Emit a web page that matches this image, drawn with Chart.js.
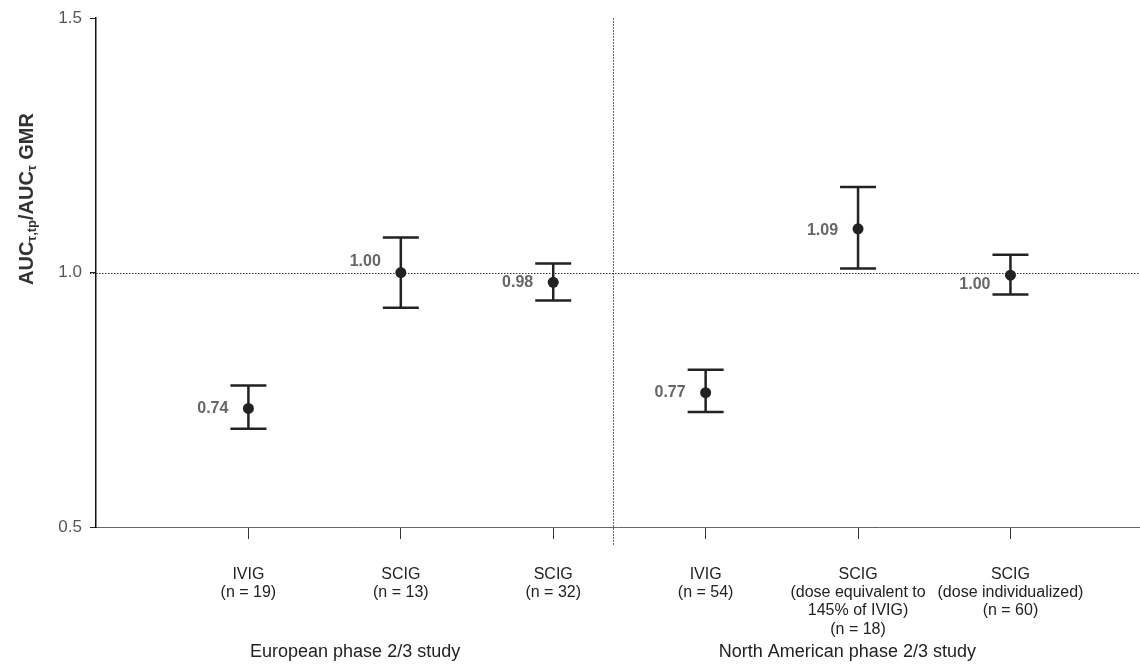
<!DOCTYPE html>
<html>
<head>
<meta charset="utf-8">
<script src="https://cdn.jsdelivr.net/npm/chart.js@4/dist/chart.umd.min.js"></script>
<style>
  html, body { margin: 0; padding: 0; background: #fff; }
  #wrap { width: 1140px; height: 665px; }
</style>
</head>
<body>
<div id="wrap"><canvas id="c" width="1140" height="665"></canvas></div>
<script>
// ---- data ----
const categories = [
  ["IVIG", "(n = 19)"],
  ["SCIG", "(n = 13)"],
  ["SCIG", "(n = 32)"],
  ["IVIG", "(n = 54)"],
  ["SCIG", "(dose equivalent to", "145% of IVIG)", "(n = 18)"],
  ["SCIG", "(dose individualized)", "(n = 60)"]
];
const gmr   = [0.733, 1.000, 0.981, 0.764, 1.086, 0.995];
const lower = [0.693, 0.931, 0.945, 0.726, 1.008, 0.957];
const upper = [0.778, 1.069, 1.018, 0.809, 1.168, 1.035];
const valueLabels = ["0.74", "1.00", "0.98", "0.77", "1.09", "1.00"];
const studies = ["European phase 2/3 study", "North American phase 2/3 study"];
const studyCenters = [1.70, 4.93];
const yTicks = [0.5, 1.0, 1.5];
const referenceY = 1.0;
const dividerX = 3.39;

// label placement (style only)
const labelDy = [0, -11, 0, 0, 2, 9];

const FONT = "'Liberation Sans', Arial, sans-serif";

const errorBarPlugin = {
  id: 'errorBars',
  beforeDatasetsDraw(chart) {
    const {ctx, scales: {x, y}} = chart;
    ctx.save();
    ctx.strokeStyle = '#222';
    ctx.lineWidth = 2.5;
    ctx.lineCap = 'butt';
    gmr.forEach((v, i) => {
      const px = x.getPixelForValue(i + 1);
      const pl = y.getPixelForValue(lower[i]);
      const pu = y.getPixelForValue(upper[i]);
      ctx.beginPath();
      ctx.moveTo(px, pl); ctx.lineTo(px, pu);
      ctx.moveTo(px - 18, pu); ctx.lineTo(px + 18, pu);
      ctx.moveTo(px - 18, pl); ctx.lineTo(px + 18, pl);
      ctx.stroke();
    });
    ctx.restore();
  }
};

const refLinePlugin = {
  id: 'refLines',
  beforeDatasetsDraw(chart) {
    const {ctx, chartArea, scales: {x, y}} = chart;
    ctx.save();
    ctx.strokeStyle = '#333';
    ctx.lineWidth = 1;
    ctx.setLineDash([1.5, 1.5]);
    const yy = Math.round(y.getPixelForValue(referenceY)) + 0.5;
    ctx.beginPath();
    ctx.moveTo(chartArea.left - 6, yy);
    ctx.lineTo(chartArea.right, yy);
    ctx.stroke();
    const xx = Math.round(x.getPixelForValue(dividerX)) + 0.5;
    ctx.beginPath();
    ctx.moveTo(xx, chartArea.top);
    ctx.lineTo(xx, chartArea.bottom + 18);
    ctx.stroke();
    ctx.restore();
  }
};

const labelPlugin = {
  id: 'textLabels',
  afterDraw(chart) {
    const {ctx, chartArea, scales: {x, y}} = chart;
    ctx.save();
    // value labels
    ctx.font = "bold 16px " + FONT;
    ctx.fillStyle = '#666';
    ctx.textAlign = 'right';
    ctx.textBaseline = 'middle';
    gmr.forEach((v, i) => {
      const px = x.getPixelForValue(i + 1);
      const py = y.getPixelForValue(v);
      ctx.fillText(valueLabels[i], px - 20, py + labelDy[i]);
    });
    // study labels
    ctx.font = "18px " + FONT;
    ctx.fillStyle = '#222';
    ctx.textAlign = 'center';
    studies.forEach((s, i) => {
      ctx.fillText(s, x.getPixelForValue(studyCenters[i]), 652);
    });
    // y-axis title with subscripts
    ctx.translate(27, 199);
    ctx.rotate(-Math.PI / 2);
    const parts = [
      ["AUC", false], ["τ,tp", true], ["/AUC", false], ["τ", true], [" GMR", false]
    ];
    const big = "bold 20px " + FONT, small = "bold 13px " + FONT;
    let total = 0;
    parts.forEach(([t, sub]) => { ctx.font = sub ? small : big; total += ctx.measureText(t).width; });
    let cx = -total / 2;
    ctx.textAlign = 'left';
    ctx.fillStyle = '#333';
    parts.forEach(([t, sub]) => {
      ctx.font = sub ? small : big;
      ctx.fillText(t, cx, sub ? 5 : 0);
      cx += ctx.measureText(t).width;
    });
    ctx.restore();
  }
};

new Chart(document.getElementById('c'), {
  type: 'scatter',
  data: {
    datasets: [{
      data: gmr.map((v, i) => ({x: i + 1, y: v})),
      pointRadius: 5.5,
      pointHoverRadius: 5.5,
      pointBackgroundColor: '#222',
      pointBorderColor: '#222',
      pointBorderWidth: 0,
      showLine: false
    }]
  },
  options: {
    responsive: false,
    devicePixelRatio: 1,
    animation: false,
    layout: { autoPadding: false, padding: { top: 18, right: 0, left: 0, bottom: 0 } },
    plugins: { legend: { display: false }, tooltip: { enabled: false } },
    scales: {
      x: {
        type: 'linear',
        min: 0,
        max: 6.85,
        afterBuildTicks(axis) { axis.ticks = categories.map((c, i) => ({value: i + 1})); },
        afterFit(axis) { axis.height = 138; },
        ticks: {
          autoSkip: false,
          maxRotation: 0,
          padding: 26,
          color: '#222',
          font: { family: FONT, size: 16, lineHeight: 1.15 },
          callback: (v) => categories[Math.round(v) - 1]
        },
        grid: { drawOnChartArea: false, drawTicks: true, tickLength: 12, color: '#333', lineWidth: 1 },
        border: { display: true, color: '#666', width: 1 }
      },
      y: {
        min: 0.5,
        max: 1.5,
        afterBuildTicks(axis) { axis.ticks = yTicks.map(v => ({value: v})); },
        afterFit(axis) { axis.width = 96; },
        ticks: {
          padding: 8,
          color: '#555',
          font: { family: FONT, size: 17 },
          callback: (v) => Number(v).toFixed(1)
        },
        grid: { drawOnChartArea: false, drawTicks: true, tickLength: 6, color: '#222', lineWidth: 1 },
        border: { display: true, color: '#111', width: 1.5 }
      }
    }
  },
  plugins: [refLinePlugin, errorBarPlugin, labelPlugin]
});
</script>
</body>
</html>
